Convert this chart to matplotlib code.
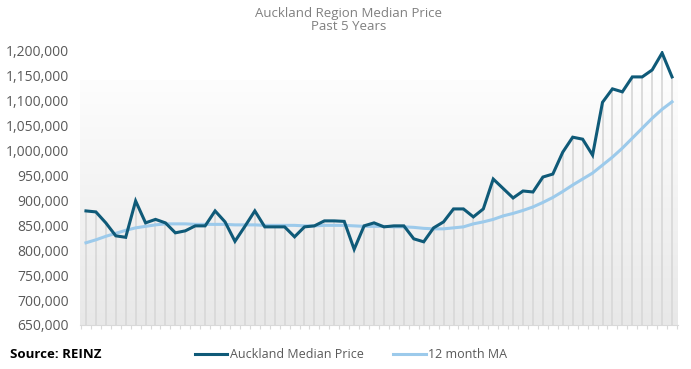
import numpy as np
import matplotlib.pyplot as plt
from matplotlib.ticker import FuncFormatter
from matplotlib.lines import Line2D

plt.rcParams['font.family'] = ['Open Sans', 'DejaVu Sans']

# monthly values, past 5 years (in $000)
median_price = [879, 877, 855, 829, 826, 899, 855, 862, 855, 835,
                839, 849, 849, 879, 857, 818, 848, 879, 847, 847,
                847, 827, 847, 849, 859, 859, 858, 802, 849, 855,
                847, 849, 849, 823, 817, 845, 857, 883, 883, 867,
                883, 943, 924, 905, 919, 917, 947, 953, 997, 1027,
                1023, 991, 1097, 1124, 1118, 1148, 1148, 1162, 1196, 1148]
ma_12 = [815, 821, 828, 834, 840, 845, 848, 851, 853, 853,
         853, 852, 852, 852, 852, 851, 851, 851, 850, 850,
         850, 850, 849, 849, 850, 850, 850, 849, 848, 848,
         848, 847, 847, 846, 844, 843, 843, 845, 847, 853,
         857, 862, 869, 874, 880, 887, 896, 906, 918, 931,
         943, 955, 971, 987, 1005, 1025, 1045, 1065, 1083, 1098]

median_price = np.array(median_price) * 1000
ma_12 = np.array(ma_12) * 1000
months = np.arange(len(median_price))

dark = '#0f5a78'
light = '#9ccaeb'

fig = plt.figure(figsize=(6.91, 3.69), dpi=100)
ax = fig.add_axes([80 / 691, 44 / 369, 598 / 691, 274 / 369])

# grey gradient background
grad = np.linspace(0, 1, 256).reshape(-1, 1)
ax.imshow(grad, cmap=plt.cm.colors.LinearSegmentedColormap.from_list('g', ['#e8e8e8', '#fdfdfd']),
          extent=(-0.6, len(months) - 0.4, 650000, 1140000), origin='lower',
          aspect='auto', zorder=0)

# drop lines
ax.vlines(months, 650000, median_price, color='#d9d9d9', lw=1.3, zorder=1)

ax.plot(months, median_price, color=dark, lw=2.2, zorder=3, solid_joinstyle='miter')
ax.plot(months, ma_12, color=light, lw=2.2, zorder=2)

ax.set_xlim(-0.6, len(months) - 0.4)
ax.set_ylim(650000, 1200000)
ax.set_yticks(np.arange(650000, 1200001, 50000))
ax.yaxis.set_major_formatter(FuncFormatter(lambda v, p: f'{int(v):,}'))
ax.tick_params(axis='y', length=0, pad=8, labelsize=10, labelcolor='#595959')
ax.set_xticks(np.arange(-0.5, len(months), 1))
ax.set_xticklabels([])
ax.tick_params(axis='x', length=3, color='#d9d9d9', width=0.8)

for s in ['top', 'right', 'left']:
    ax.spines[s].set_visible(False)
ax.spines['bottom'].set_color('#d9d9d9')

fig.text(0.505, 1 - 13 / 369, 'Auckland Region Median Price', ha='center', va='center',
         fontsize=9.5, color='#808080')
fig.text(0.505, 1 - 26 / 369, 'Past 5 Years', ha='center', va='center',
         fontsize=9.5, color='#808080')

fig.text(10 / 691, 1 - 355 / 369, 'Source: REINZ', ha='left', va='center',
         fontsize=9.5, fontweight='bold', color='black')

handles = [Line2D([], [], color=dark, lw=2.2), Line2D([], [], color=light, lw=2.2)]
fig.legend(handles, ['Auckland Median Price', '12 month MA'], loc='center',
           bbox_to_anchor=(351 / 691, 1 - 355 / 369), ncol=2, frameon=False,
           fontsize=9, labelcolor='#595959', handlelength=2.6, handletextpad=0.2,
           columnspacing=2.4)

fig.savefig('out.png', dpi=100)
